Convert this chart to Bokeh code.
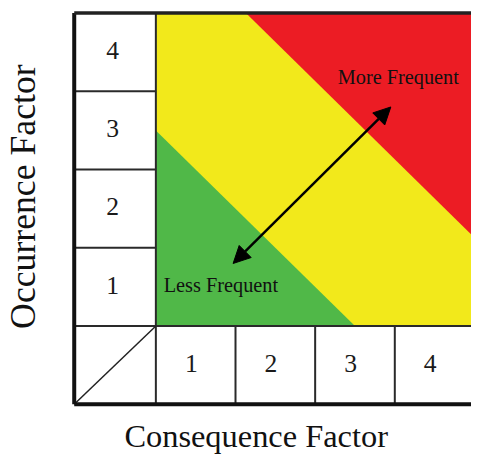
import math
from bokeh.plotting import figure
from bokeh.models import Range1d, Arrow, NormalHead
from bokeh.core.properties import value
from bokeh.embed import file_html
from bokeh.resources import INLINE

# ---- data ----
occurrence_levels = ["1", "2", "3", "4"]
consequence_levels = ["1", "2", "3", "4"]
n_levels = 4
green_threshold = 2.5      # occurrence + consequence below this: green zone
red_threshold = 5.13       # above this: red zone
arrow_low = (0.97, 0.80)
arrow_high = (2.95, 2.80)
x_title = "Consequence Factor"
y_title = "Occurrence Factor"
low_label = "Less Frequent"
high_label = "More Frequent"

# ---- layout (reference pixel geometry, scaled to fit) ----
REF_W, REF_H = 479.0, 472.0
W, H = 471, 456
S = H / REF_H                     # scale reference px -> screen px
cell_ref = 81.0
corner_ref = (158.0, 337.0)       # matrix corner in reference pixels
BASE_K = 0.36                     # svg baseline correction (fraction of em)


def cx(px):
    return (px - corner_ref[0]) / cell_ref


def cy(py):
    return (corner_ref[1] - py) / cell_ref


def fs(px):
    return f"{px * S:.1f}px"


def bl(font_ref_px):
    # baseline correction in cell units
    return BASE_K * font_ref_px / cell_ref


p = figure(width=W, height=H, output_backend="svg", toolbar_location=None,
           x_range=Range1d(cx(0), cx(REF_W)), y_range=Range1d(cy(REF_H), cy(0)),
           min_border=0, background_fill_color="white", border_fill_color="white")
p.axis.visible = False
p.grid.visible = False
p.outline_line_color = None

N = n_levels
label_w = 1.025   # width of left header column (cells)

# zones
p.patch([0, N, N, 0], [0, 0, N, N], fill_color="#F2E91B", line_color=None)
p.patch([0, green_threshold, 0], [0, 0, green_threshold],
        fill_color="#50B848", line_color=None)
p.patch([red_threshold - N, N, N], [N, N, red_threshold - N],
        fill_color="#EC1C24", line_color=None)

# inner grid lines
ix0, iy0, ix1, iy1 = [], [], [], []
for i in range(1, N):
    ix0.append(-label_w); ix1.append(0); iy0.append(i); iy1.append(i)
    ix0.append(i); ix1.append(i); iy0.append(-1); iy1.append(0)
ix0 += [0, -label_w, N]; ix1 += [0, N, N]; iy0 += [-1, 0, -1]; iy1 += [N, 0, 0]
p.segment(ix0, iy0, ix1, iy1, line_color="#2a2a2a", line_width=2)

# corner diagonal
p.segment([-label_w], [-1], [0], [0], line_color="#222222", line_width=1.5)

# outer frame
p.segment([-label_w, -label_w], [-1, -1], [-label_w, N + 1], [N, -1],
          line_color="#111111", line_width=4)
p.segment([-label_w], [N], [N + 1], [N], line_color="#222222", line_width=3.5)

# header numbers
serif = value("Liberation Serif")
NUM_F = 26.5
p.text([-label_w / 2 - 0.03] * N, [i + 0.5 - 0.093 + bl(NUM_F) for i in range(N)],
       text=occurrence_levels, text_font=serif, text_font_size=fs(NUM_F),
       text_align="center", text_baseline="alphabetic", text_color="#1a1a1a")
p.text([i + 0.5 - 0.055 for i in range(N)], [-0.5 - 0.093 + bl(NUM_F)] * N,
       text=consequence_levels, text_font=serif, text_font_size=fs(NUM_F),
       text_align="center", text_baseline="alphabetic", text_color="#1a1a1a")

# arrow
p.add_layout(Arrow(x_start=arrow_low[0], y_start=arrow_low[1],
                   x_end=arrow_high[0], y_end=arrow_high[1],
                   line_width=2.5, line_color="black",
                   start=NormalHead(size=17, fill_color="black", line_color="black"),
                   end=NormalHead(size=17, fill_color="black", line_color="black")))

# zone labels
LAB_F = 21
p.text([cx(166)], [cy(302) + bl(LAB_F)], text=[low_label], text_font=serif,
       text_font_size=fs(LAB_F), text_align="left", text_baseline="alphabetic",
       text_color="#111111")
p.text([cx(343)], [cy(87) + bl(LAB_F)], text=[high_label],
       text_font=serif, text_font_size=fs(LAB_F), text_align="left",
       text_baseline="alphabetic", text_color="#111111")

# axis titles
XT_F, YT_F = 33.5, 37
p.text([cx(260)], [cy(463) + bl(XT_F)], text=[x_title], text_font=serif,
       text_font_size=fs(XT_F), text_align="center", text_baseline="alphabetic",
       text_color="#111111")
p.text([cx(36) - bl(YT_F)], [cy(203)], text=[y_title], text_font=serif,
       text_font_size=fs(YT_F), text_align="center", text_baseline="alphabetic",
       text_color="#111111", angle=math.pi / 2)

open("out.html", "w").write(file_html(p, INLINE))
